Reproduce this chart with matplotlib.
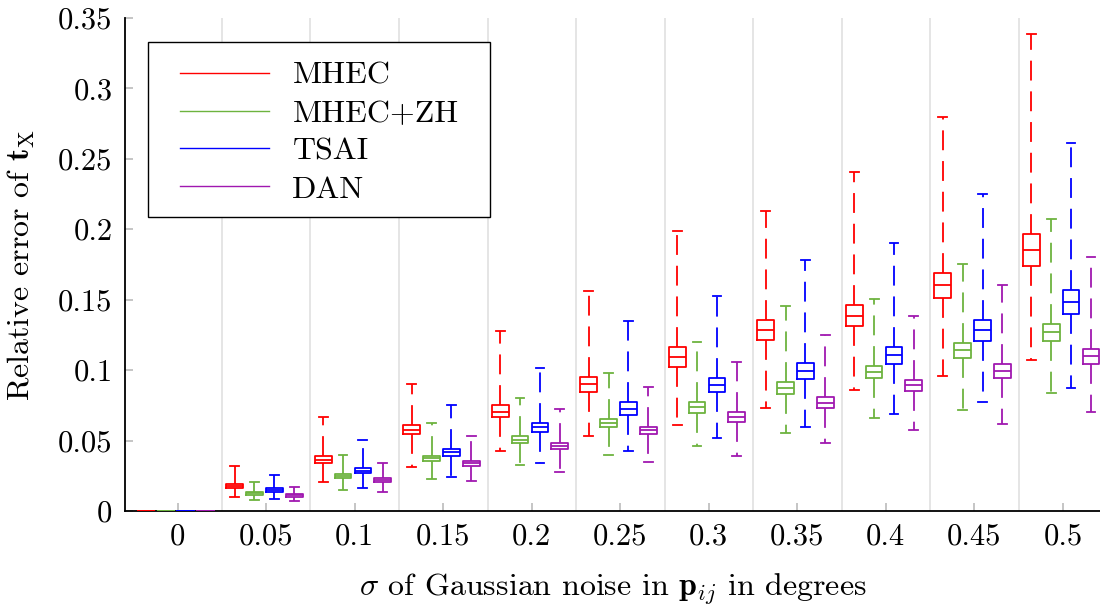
import numpy as np
import matplotlib.pyplot as plt
from matplotlib.lines import Line2D
from matplotlib.patches import Rectangle

plt.rcParams['font.family'] = 'cmr10'
plt.rcParams['mathtext.fontset'] = 'cm'
plt.rcParams['axes.formatter.use_mathtext'] = True

# noise levels (x groups) and methods
noise = ['0', '0.05', '0.1', '0.15', '0.2', '0.25', '0.3', '0.35', '0.4', '0.45', '0.5']
methods = ['MHEC', 'MHEC+ZH', 'TSAI', 'DAN']
colors = ['#ff0000', '#6db33f', '#0000ff', '#a018b0']
yticks = [0, 0.05, 0.1, 0.15, 0.2, 0.25, 0.3, 0.35]
ytick_labels = ['0', '0.05', '0.1', '0.15', '0.2', '0.25', '0.3', '0.35']

# box statistics, one list per method
mhec_lo  = [0, 0.0102, 0.0206, 0.0315, 0.0425, 0.0529, 0.0612, 0.0733, 0.0861, 0.0960, 0.1070]
mhec_q1  = [0, 0.0160, 0.0339, 0.0546, 0.0664, 0.0847, 0.1022, 0.1214, 0.1311, 0.1510, 0.1738]
mhec_med = [0, 0.0178, 0.0364, 0.0576, 0.0704, 0.0899, 0.1093, 0.1285, 0.1387, 0.1601, 0.1855]
mhec_q3  = [0, 0.0190, 0.0389, 0.0607, 0.0749, 0.0951, 0.1162, 0.1354, 0.1463, 0.1691, 0.1968]
mhec_hi  = [0, 0.0320, 0.0664, 0.0901, 0.1276, 0.1563, 0.1987, 0.2132, 0.2409, 0.2796, 0.3386]

zh_lo  = [0, 0.0078, 0.0152, 0.0230, 0.0327, 0.0400, 0.0458, 0.0553, 0.0662, 0.0716, 0.0835]
zh_q1  = [0, 0.0116, 0.0233, 0.0356, 0.0482, 0.0595, 0.0699, 0.0828, 0.0944, 0.1088, 0.1209]
zh_med = [0, 0.0127, 0.0247, 0.0375, 0.0505, 0.0624, 0.0740, 0.0873, 0.0989, 0.1143, 0.1269]
zh_q3  = [0, 0.0137, 0.0261, 0.0393, 0.0531, 0.0654, 0.0775, 0.0918, 0.1029, 0.1190, 0.1330]
zh_hi  = [0, 0.0204, 0.0396, 0.0624, 0.0799, 0.0977, 0.1202, 0.1458, 0.1506, 0.1755, 0.2070]

tsai_lo  = [0, 0.0085, 0.0166, 0.0244, 0.0339, 0.0427, 0.0517, 0.0598, 0.0685, 0.0773, 0.0875]
tsai_q1  = [0, 0.0135, 0.0270, 0.0391, 0.0560, 0.0683, 0.0842, 0.0937, 0.1044, 0.1209, 0.1401]
tsai_med = [0, 0.0148, 0.0287, 0.0417, 0.0593, 0.0726, 0.0894, 0.0996, 0.1105, 0.1285, 0.1487]
tsai_q3  = [0, 0.0161, 0.0304, 0.0443, 0.0626, 0.0773, 0.0944, 0.1053, 0.1165, 0.1359, 0.1572]
tsai_hi  = [0, 0.0258, 0.0505, 0.0754, 0.1012, 0.1352, 0.1525, 0.1781, 0.1902, 0.2253, 0.2616]

dan_lo  = [0, 0.0071, 0.0133, 0.0213, 0.0277, 0.0349, 0.0393, 0.0486, 0.0574, 0.0621, 0.0706]
dan_q1  = [0, 0.0100, 0.0204, 0.0322, 0.0439, 0.0546, 0.0631, 0.0731, 0.0851, 0.0944, 0.1044]
dan_med = [0, 0.0110, 0.0218, 0.0340, 0.0461, 0.0572, 0.0667, 0.0770, 0.0891, 0.0994, 0.1098]
dan_q3  = [0, 0.0121, 0.0233, 0.0356, 0.0484, 0.0598, 0.0702, 0.0809, 0.0932, 0.1044, 0.1150]
dan_hi  = [0, 0.0173, 0.0341, 0.0529, 0.0723, 0.0880, 0.1055, 0.1247, 0.1385, 0.1601, 0.1800]

stats_by_method = [
    (mhec_lo, mhec_q1, mhec_med, mhec_q3, mhec_hi),
    (zh_lo, zh_q1, zh_med, zh_q3, zh_hi),
    (tsai_lo, tsai_q1, tsai_med, tsai_q3, tsai_hi),
    (dan_lo, dan_q1, dan_med, dan_q3, dan_hi),
]

fig = plt.figure(figsize=(11, 6.06), dpi=100)
ax = fig.add_axes([0.1136, 0.1568, 0.8864, 0.8135])

idx = np.arange(len(noise))
step = 0.225
for k, (lo, q1, med, q3, hi) in enumerate(stats_by_method):
    c = colors[k]
    stats = [dict(whislo=lo[i], q1=q1[i], med=med[i], q3=q3[i], whishi=hi[i], fliers=[])
             for i in range(len(noise))]
    pos = idx - 0.02 + (k - 1.5) * step
    ax.bxp(stats, positions=pos, widths=0.19, capwidths=0.1, showfliers=False,
           boxprops=dict(color=c, lw=1.3, zorder=3),
           medianprops=dict(color=c, lw=1.3, zorder=3),
           whiskerprops=dict(color=c, lw=1.3, linestyle=(0, (11, 6)), zorder=3),
           capprops=dict(color=c, lw=1.3, zorder=3),
           manage_ticks=False)

# vertical separators between groups
for b in idx[:-1] + 0.5:
    ax.axvline(b, color='#e3e3e3', lw=1.3, zorder=0)

ax.set_xlim(-0.596, 10.42)
ax.set_ylim(0, 0.35)
ax.set_xticks(idx)
ax.set_xticklabels(noise)
ax.set_yticks(yticks)
ax.set_yticklabels(ytick_labels)
ax.tick_params(direction='in', length=6, width=1.2, color='#bbbbbb', labelsize=22, pad=9)
for s in ['top', 'right']:
    ax.spines[s].set_visible(False)
for s in ['left', 'bottom']:
    ax.spines[s].set_linewidth(1.3)

ax.set_xlabel(r'$\sigma$ of Gaussian noise in $\mathbf{p}_{ij}$ in degrees', fontsize=23, labelpad=15)
ax.set_ylabel(r'Relative error of $\mathbf{t}_\mathrm{X}$', fontsize=23, labelpad=15)

# legend: entries without frame, frame drawn as a rectangle behind
handles = [Line2D([], [], color=c, lw=1.0) for c in colors]
leg = ax.legend(handles, methods, loc='upper left', bbox_to_anchor=(0.0564, 0.912),
                borderaxespad=0, borderpad=0, fontsize=23, handlelength=2.8,
                handletextpad=0.72, labelspacing=0.3, frameon=False)
leg.set_zorder(6)
ax.add_patch(Rectangle((0.0236, 0.5955), 0.3508, 0.3557, transform=ax.transAxes,
                       facecolor='white', edgecolor='black', lw=1.0, zorder=5))

fig.savefig('out.png', dpi=100)
